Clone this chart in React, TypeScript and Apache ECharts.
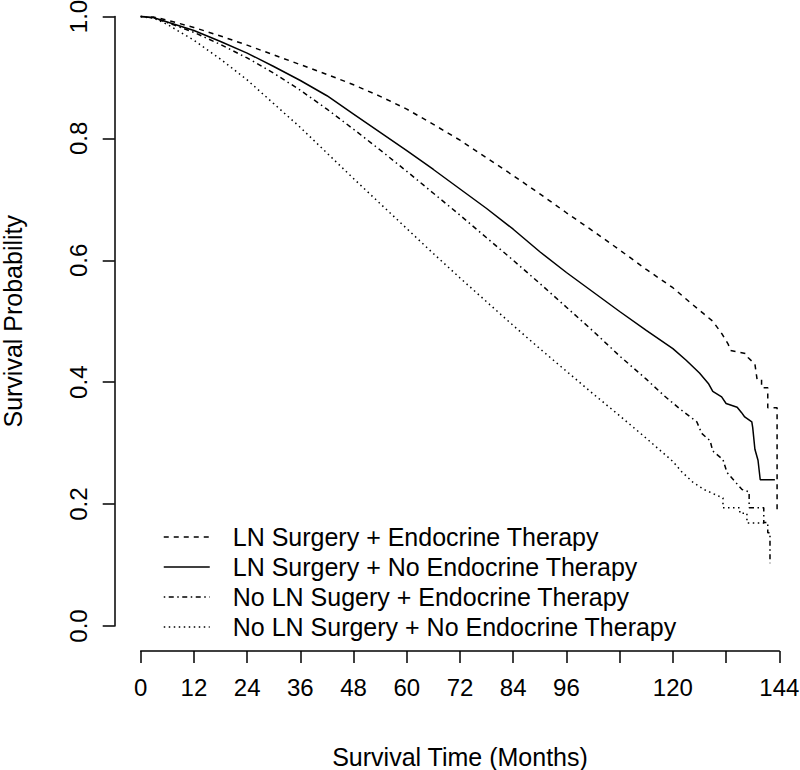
import React, { useEffect, useRef } from "react";
import * as echarts from "echarts";

const seriesNames = [
  "LN Surgery + Endocrine Therapy",
  "LN Surgery + No Endocrine Therapy",
  "No LN Sugery + Endocrine Therapy",
  "No LN Surgery + No Endocrine Therapy",
];

const xTicks = [0, 12, 24, 36, 48, 60, 72, 84, 96, 108, 120, 132, 144];
const xHiddenLabels = [108, 132];

const lnEndoTime = [0, 3, 6, 12, 18, 24, 30, 36, 42, 48, 54, 60, 66, 72, 78, 84, 90, 96, 102, 108, 114, 120, 124, 127, 129, 131, 132.5, 133, 136.5, 137, 138.5, 139, 140, 140, 141.4, 141.4, 143.5, 143.5];
const lnEndoSurv = [1, 0.999, 0.994, 0.982, 0.968, 0.953, 0.937, 0.921, 0.905, 0.888, 0.869, 0.848, 0.823, 0.797, 0.768, 0.739, 0.709, 0.678, 0.648, 0.617, 0.585, 0.555, 0.53, 0.512, 0.5, 0.48, 0.462, 0.452, 0.447, 0.44, 0.43, 0.404, 0.404, 0.391, 0.391, 0.358, 0.358, 0.187];

const lnNoEndoTime = [0, 3, 6, 12, 18, 24, 30, 36, 42, 48, 54, 60, 66, 72, 78, 84, 90, 96, 102, 108, 114, 120, 123, 126, 128, 129, 131, 132, 134.5, 135.5, 136.2, 137.8, 138, 138.5, 139.2, 139.7, 143];
const lnNoEndoSurv = [1, 0.998, 0.991, 0.977, 0.959, 0.94, 0.918, 0.895, 0.87, 0.84, 0.81, 0.78, 0.749, 0.717, 0.685, 0.651, 0.614, 0.58, 0.548, 0.516, 0.485, 0.455, 0.436, 0.415, 0.398, 0.385, 0.376, 0.365, 0.359, 0.35, 0.343, 0.335, 0.326, 0.29, 0.272, 0.24, 0.24];

const noLnEndoTime = [0, 3, 6, 12, 18, 24, 30, 36, 42, 48, 54, 60, 66, 72, 78, 84, 90, 96, 102, 108, 114, 118, 121.6, 125.4, 126.5, 128.4, 129, 131.3, 132.2, 134, 135.6, 137.2, 137.2, 140.5, 140.5, 141.4, 141.4, 141.9, 141.9];
const noLnEndoSurv = [1, 0.998, 0.99, 0.974, 0.954, 0.932, 0.907, 0.879, 0.848, 0.815, 0.781, 0.746, 0.71, 0.674, 0.637, 0.6, 0.562, 0.523, 0.484, 0.443, 0.405, 0.378, 0.356, 0.335, 0.316, 0.304, 0.287, 0.273, 0.252, 0.237, 0.224, 0.22, 0.194, 0.194, 0.17, 0.17, 0.153, 0.153, 0.103];

const noLnNoEndoTime = [0, 3, 6, 12, 18, 24, 30, 36, 42, 48, 54, 60, 66, 72, 78, 84, 90, 96, 102, 108, 114, 120, 122, 124.5, 127, 131.3, 131.3, 135.1, 135.1, 136.7, 136.7, 140.8];
const noLnNoEndoSurv = [1, 0.997, 0.987, 0.961, 0.93, 0.896, 0.857, 0.818, 0.776, 0.734, 0.693, 0.652, 0.611, 0.571, 0.532, 0.493, 0.455, 0.418, 0.381, 0.345, 0.308, 0.27, 0.253, 0.236, 0.224, 0.21, 0.194, 0.194, 0.185, 0.185, 0.169, 0.169];

const dashPatterns: number[][] = [
  [5, 5],
  [],
  [1.5, 3.5, 5, 3.5],
  [1.5, 3.5],
];

const FONT = "'Liberation Sans', Arial, sans-serif";

function zip(t: number[], s: number[]) {
  return t.map((v, i) => [v, s[i]]);
}

export default function App() {
  const ref = useRef<HTMLDivElement>(null);
  useEffect(() => {
    if (!ref.current) return;
    const chart = echarts.init(ref.current, null, { renderer: "svg" });
    const datasets = [
      zip(lnEndoTime, lnEndoSurv),
      zip(lnNoEndoTime, lnNoEndoSurv),
      zip(noLnEndoTime, noLnEndoSurv),
      zip(noLnNoEndoTime, noLnNoEndoSurv),
    ];
    const option: any = {
      animation: false,
      backgroundColor: "#ffffff",
      textStyle: { fontFamily: FONT, color: "#000" },
      grid: {
        left: 140.7,
        right: 20.7,
        top: 16.5,
        bottom: 144,
        containLabel: false,
        outerBoundsMode: "none",
      },
      xAxis: {
        type: "value",
        min: 0,
        max: 144,
        interval: 12,
        offset: 25,
        name: "Survival Time (Months)",
        nameLocation: "middle",
        nameGap: 93,
        nameTextStyle: { fontSize: 25, color: "#000", fontFamily: FONT },
        axisLine: { show: true, onZero: false, lineStyle: { color: "#000", width: 1.5 } },
        axisTick: { show: true, length: 12, lineStyle: { color: "#000", width: 1.5 } },
        axisLabel: {
          fontSize: 24,
          color: "#000",
          fontFamily: FONT,
          margin: 24,
          formatter: (v: number) => (xHiddenLabels.includes(v) ? "" : String(v)),
          customValues: xTicks,
        },
        splitLine: { show: false },
      },
      yAxis: {
        type: "value",
        min: 0,
        max: 1,
        interval: 0.2,
        offset: 26,
        name: "Survival Probability",
        nameLocation: "middle",
        nameRotate: 90,
        nameGap: 89,
        nameTextStyle: { fontSize: 25, color: "#000", fontFamily: FONT },
        axisLine: { show: true, onZero: false, lineStyle: { color: "#000", width: 1.5 } },
        axisTick: { show: true, length: 12, lineStyle: { color: "#000", width: 1.5 } },
        axisLabel: {
          fontSize: 24,
          color: "#000",
          fontFamily: FONT,
          rotate: 90,
          margin: 24,
          formatter: (v: number) => v.toFixed(1),
        },
        splitLine: { show: false },
      },
      legend: {
        orient: "vertical",
        left: 163,
        top: 522,
        padding: 0,
        itemWidth: 46,
        itemHeight: 20,
        itemGap: 0,
        itemStyle: { opacity: 0 },
        lineStyle: { width: 1.5 },
        textStyle: {
          fontSize: 25,
          lineHeight: 30,
          color: "#000",
          fontFamily: FONT,
          padding: [0, 0, 0, 18],
        },
        data: seriesNames,
      },
      series: seriesNames.map((name, i) => ({
        name,
        type: "line",
        data: datasets[i],
        symbol: "none",
        showSymbol: false,
        clip: false,
        silent: true,
        lineStyle: {
          color: "#000",
          width: 1.5,
          type: dashPatterns[i].length ? dashPatterns[i] : "solid",
          cap: "butt",
        },
        itemStyle: { color: "#000" },
      })),
    };
    chart.setOption(option);
    return () => chart.dispose();
  }, []);
  return (
    <div
      ref={ref}
      style={{ position: "fixed", left: 0, top: 0, width: 800, height: 770, background: "#fff" }}
    />
  );
}
